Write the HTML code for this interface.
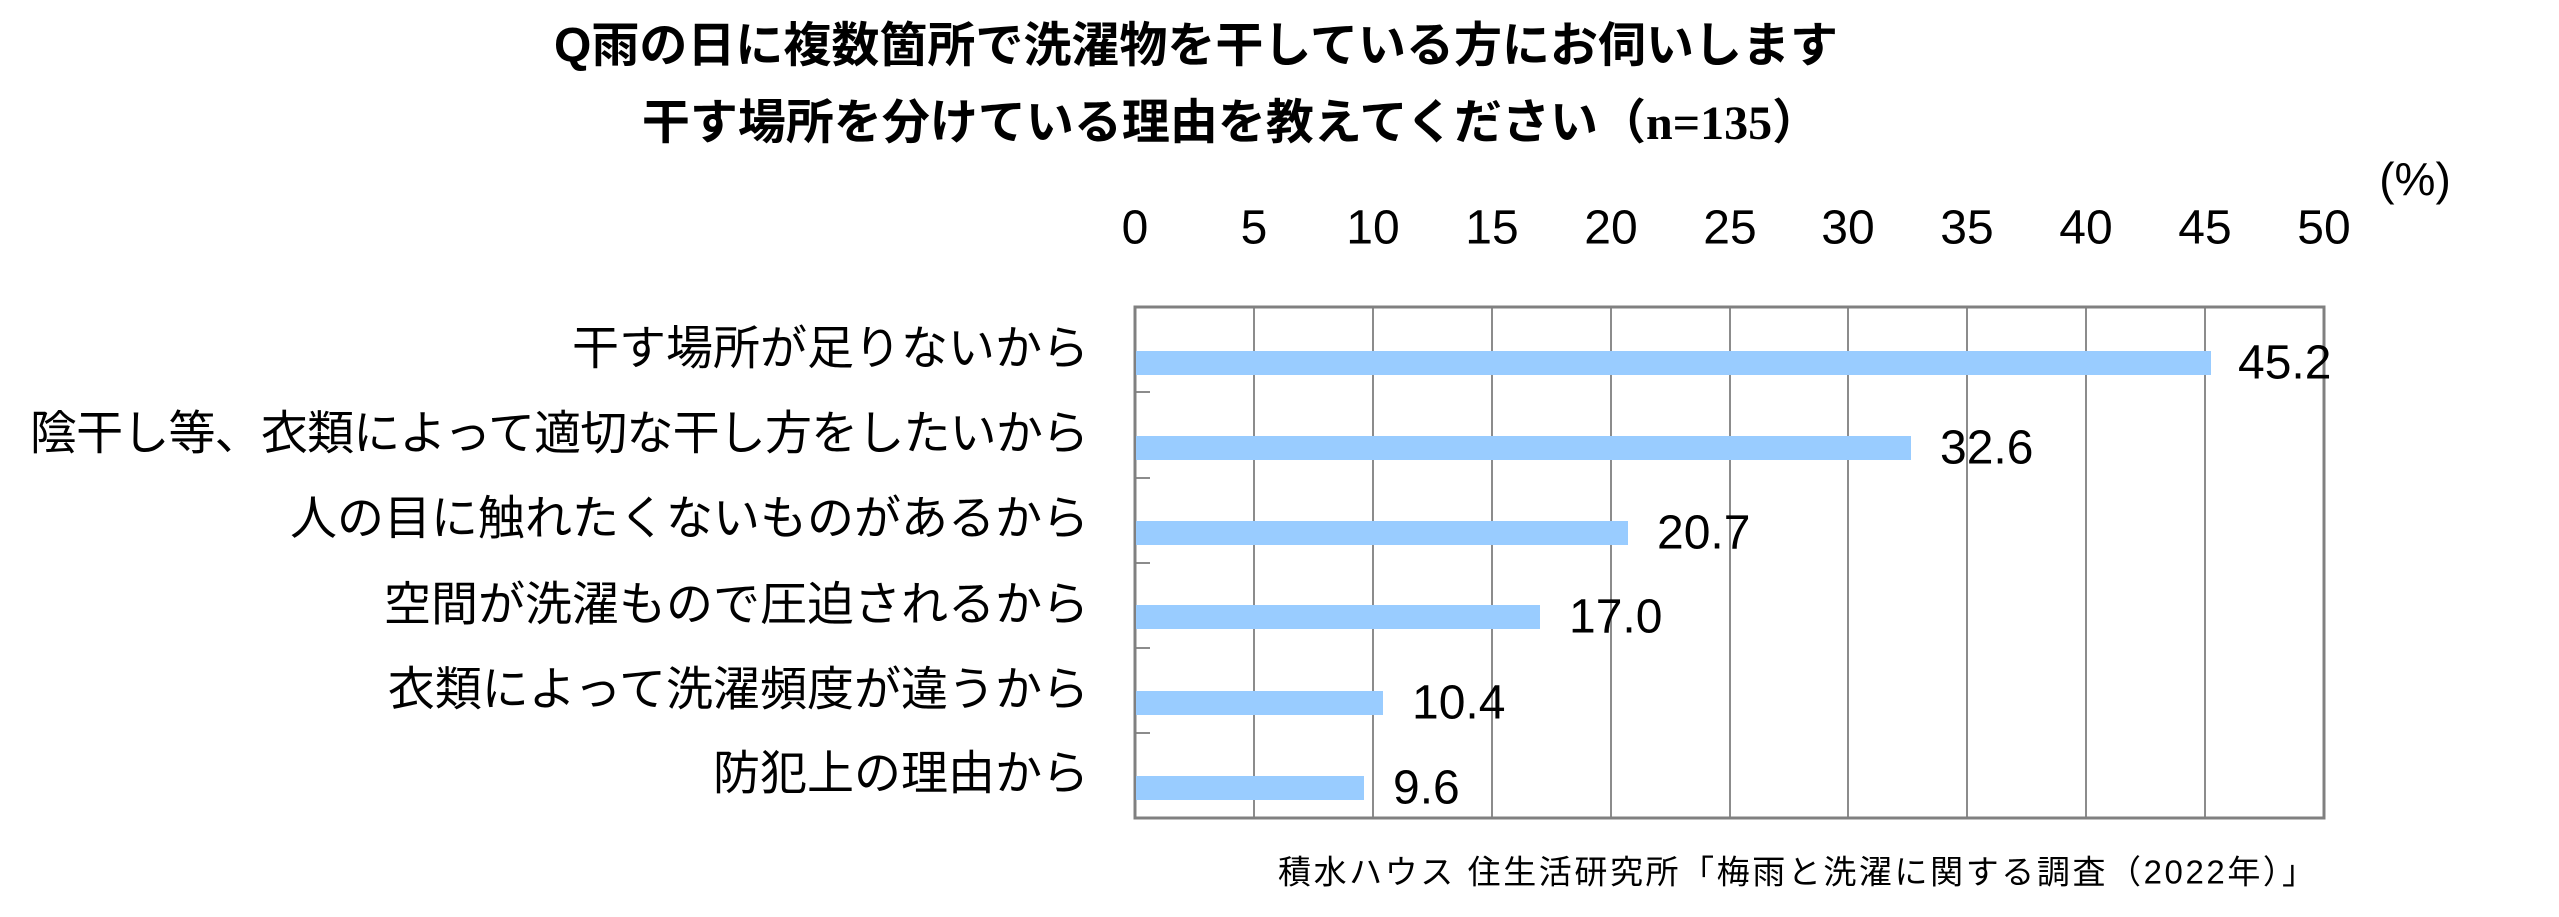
<!DOCTYPE html>
<html><head><meta charset="utf-8"><style>
body{margin:0;background:#fff;}
svg text{font-family:"Liberation Sans","Noto Sans CJK JP",sans-serif;fill:#000;}
</style></head><body>
<svg width="2559" height="912" xmlns="http://www.w3.org/2000/svg">
<text x="1196" y="46" font-size="48" font-weight="bold" text-anchor="middle" dominant-baseline="central">Q雨の日に複数箇所で洗濯物を干している方にお伺いします</text>
<text x="1231" y="123" font-size="48" font-weight="bold" text-anchor="middle" dominant-baseline="central">干す場所を分けている理由を教えてください（<tspan font-family="Liberation Serif">n=135</tspan>）</text>
<text x="2415" y="179" font-size="46" text-anchor="middle" dominant-baseline="central">(%)</text>
<g font-size="48" text-anchor="middle">
<text x="1135" y="228" dominant-baseline="central">0</text>
<text x="1254" y="228" dominant-baseline="central">5</text>
<text x="1373" y="228" dominant-baseline="central">10</text>
<text x="1492" y="228" dominant-baseline="central">15</text>
<text x="1611" y="228" dominant-baseline="central">20</text>
<text x="1730" y="228" dominant-baseline="central">25</text>
<text x="1848" y="228" dominant-baseline="central">30</text>
<text x="1967" y="228" dominant-baseline="central">35</text>
<text x="2086" y="228" dominant-baseline="central">40</text>
<text x="2205" y="228" dominant-baseline="central">45</text>
<text x="2324" y="228" dominant-baseline="central">50</text>
</g>
<g stroke="#8c8c8c" stroke-width="2">
<line x1="1254" y1="307" x2="1254" y2="818"/><line x1="1373" y1="307" x2="1373" y2="818"/>
<line x1="1492" y1="307" x2="1492" y2="818"/><line x1="1611" y1="307" x2="1611" y2="818"/>
<line x1="1730" y1="307" x2="1730" y2="818"/><line x1="1848" y1="307" x2="1848" y2="818"/>
<line x1="1967" y1="307" x2="1967" y2="818"/><line x1="2086" y1="307" x2="2086" y2="818"/>
<line x1="2205" y1="307" x2="2205" y2="818"/>
<line x1="1135" y1="392" x2="1150" y2="392"/><line x1="1135" y1="478" x2="1150" y2="478"/>
<line x1="1135" y1="563" x2="1150" y2="563"/><line x1="1135" y1="648" x2="1150" y2="648"/>
<line x1="1135" y1="733" x2="1150" y2="733"/>
</g>
<rect x="1135" y="307" width="1189" height="511" fill="none" stroke="#808080" stroke-width="3"/>
<g fill="#99ccff">
<rect x="1136" y="351" width="1075" height="24"/>
<rect x="1136" y="436" width="775" height="24"/>
<rect x="1136" y="521" width="492" height="24"/>
<rect x="1136" y="605" width="404" height="24"/>
<rect x="1136" y="691" width="247" height="24"/>
<rect x="1136" y="776" width="228" height="24"/>
</g>
<g font-size="48">
<text x="2238" y="363" dominant-baseline="central">45.2</text>
<text x="1940" y="448" dominant-baseline="central">32.6</text>
<text x="1657" y="533" dominant-baseline="central">20.7</text>
<text x="1569" y="617" dominant-baseline="central">17.0</text>
<text x="1412" y="703" dominant-baseline="central">10.4</text>
<text x="1393" y="788" dominant-baseline="central">9.6</text>
</g>
<g font-size="47" text-anchor="end">
<text x="1089" y="348" dominant-baseline="central">干す場所が足りないから</text>
<text x="1089" y="433" dominant-baseline="central" textLength="1059">陰干し等、衣類によって適切な干し方をしたいから</text>
<text x="1089" y="518" dominant-baseline="central">人の目に触れたくないものがあるから</text>
<text x="1089" y="604" dominant-baseline="central">空間が洗濯もので圧迫されるから</text>
<text x="1089" y="689" dominant-baseline="central">衣類によって洗濯頻度が違うから</text>
<text x="1089" y="773" dominant-baseline="central">防犯上の理由から</text>
</g>
<text x="1278" y="872" font-size="33" dominant-baseline="central" textLength="1037">積水ハウス 住生活研究所「梅雨と洗濯に関する調査（2022年）」</text>
</svg>
</body></html>
